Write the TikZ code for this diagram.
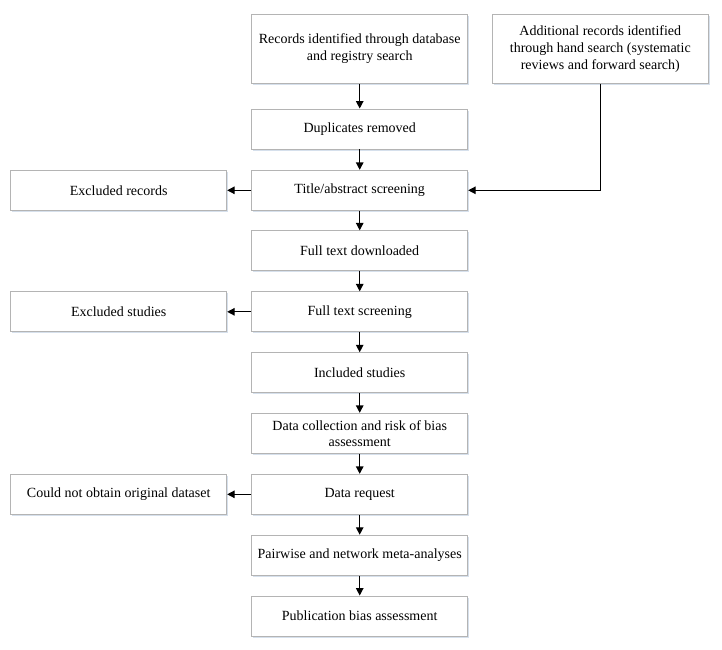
\documentclass[tikz,border=0pt]{standalone}
\usepackage{fontspec}
\setmainfont{Liberation Serif}
\usetikzlibrary{arrows.meta,shadows}
\definecolor{boxline}{HTML}{B4B4B4}
\definecolor{boxshadow}{HTML}{D6E0EC}
\tikzset{
  flowbox/.style={draw=boxline, line width=0.9pt, fill=white, minimum width=216pt, minimum height=40pt,
    align=center, inner sep=2pt, font=\fontsize{14pt}{17pt}\selectfont,
    drop shadow={shadow xshift=1.2pt, shadow yshift=-1.5pt, fill=boxshadow, opacity=1}},
  flowarrow/.style={draw=black, line width=1.3pt, -{Triangle[length=7.5pt,width=7.5pt]}}
}
\begin{document}
\begin{tikzpicture}[x=1pt,y=-1pt]
\useasboundingbox (0,0) rectangle (722,649);
\node[flowbox, minimum height=69pt] (rec) at (359.7,49) {Records identified through database\\and registry search};
\node[flowbox, minimum height=69pt] (add) at (600.3,49) {Additional records identified\\through hand search (systematic\\reviews and forward search)};
\node[flowbox] (dup) at (359.7,129) {Duplicates removed};
\node[flowbox] (tit) at (359.7,190.3) {Title/abstract screening};
\node[flowbox] (exr) at (118.7,190.3) {Excluded records};
\node[flowbox] (ftd) at (359.7,250.8) {Full text downloaded};
\node[flowbox] (fts) at (359.7,311.8) {Full text screening};
\node[flowbox] (exs) at (118.7,311.8) {Excluded studies};
\node[flowbox] (inc) at (359.7,372.7) {Included studies};
\node[flowbox, font=\fontsize{14pt}{16pt}\selectfont] (dcol) at (359.7,433.3) {Data collection and risk of bias\\assessment};
\node[flowbox] (dreq) at (359.7,494.3) {Data request};
\node[flowbox] (cno) at (118.7,494.3) {Could not obtain original dataset};
\node[flowbox] (pair) at (359.7,555.2) {Pairwise and network meta-analyses};
\node[flowbox] (pub) at (359.7,616) {Publication bias assessment};
\draw[flowarrow] (rec) -- (dup);
\draw[flowarrow] (dup) -- (tit);
\draw[flowarrow] (tit) -- (ftd);
\draw[flowarrow] (ftd) -- (fts);
\draw[flowarrow] (fts) -- (inc);
\draw[flowarrow] (inc) -- (dcol);
\draw[flowarrow] (dcol) -- (dreq);
\draw[flowarrow] (dreq) -- (pair);
\draw[flowarrow] (pair) -- (pub);
\draw[flowarrow] (tit) -- (exr);
\draw[flowarrow] (fts) -- (exs);
\draw[flowarrow] (dreq) -- (cno);
\draw[flowarrow] (add.south) |- (tit.east);
\end{tikzpicture}
\end{document}
